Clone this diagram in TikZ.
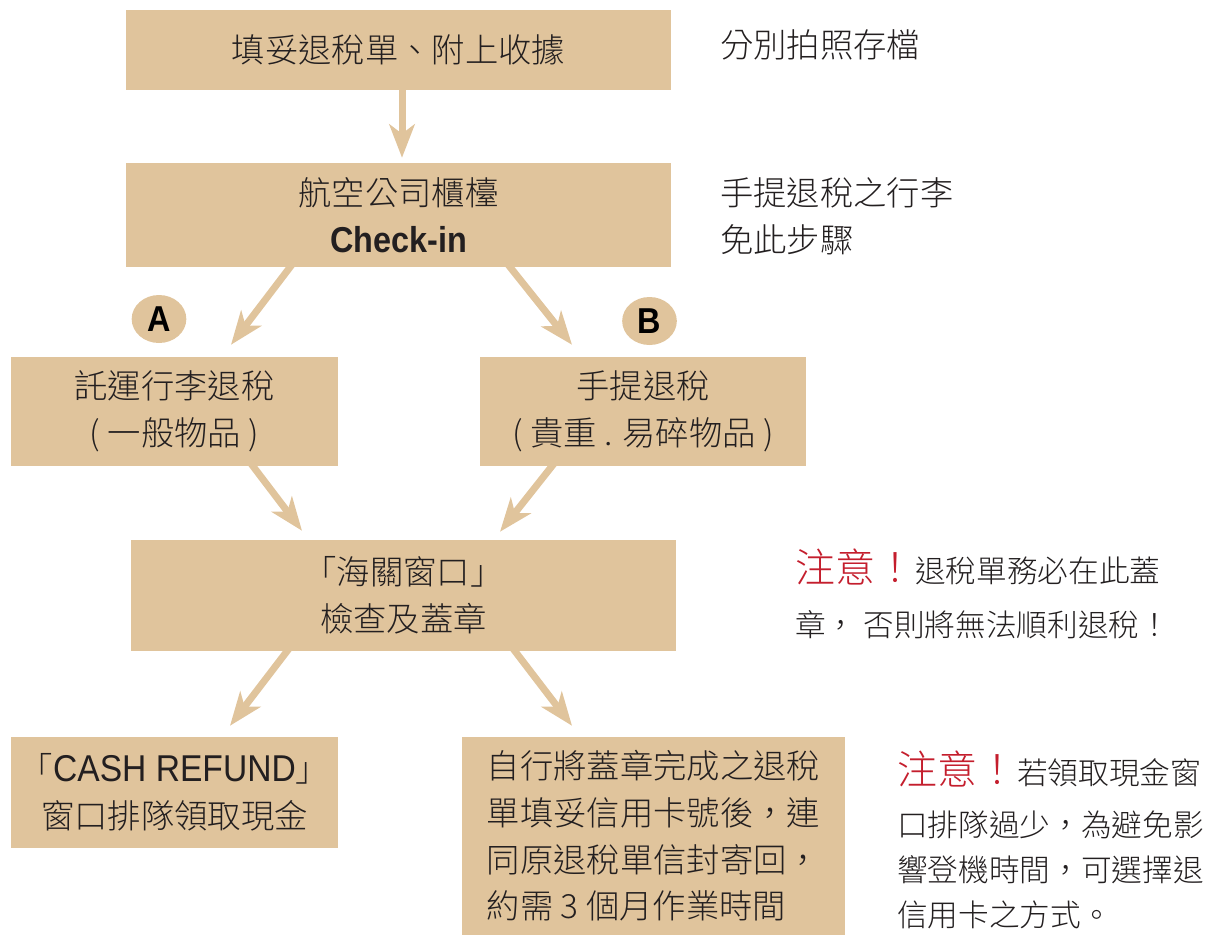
\documentclass[tikz,border=0pt]{standalone}
\usepackage{fontspec}
\setmainfont{Noto Sans CJK TC Light}
\newfontfamily\narrowsans[FakeStretch=0.9]{Liberation Sans}
\usepackage{xcolor}
\usetikzlibrary{arrows.meta,
                calc,
                positioning,
                shapes.geometric}

\definecolor{boxtan}{RGB}{224,196,156}
\definecolor{ink}{RGB}{35,31,32}
\definecolor{warnred}{RGB}{196,30,45}

\tikzset{
  box/.style 2 args={fill=boxtan, text=ink, align=center, inner sep=0pt,
                     minimum width=#1*0.75pt, minimum height=#2*0.75pt,
                     font=\fontsize{25pt}{35pt}\selectfont},
  arr/.style={boxtan, line width=5.25pt,
              -{Stealth[length=25pt,width=19pt,inset=7pt]}},
  tag/.style={ellipse, fill=boxtan, text=black, inner sep=0pt,
              minimum width=41pt, minimum height=36pt,
              font=\narrowsans\bfseries\fontsize{27pt}{27pt}\selectfont},
  note/.style={anchor=west, align=left, inner sep=0pt, text=ink,
               font=\fontsize{25pt}{35pt}\selectfont},
}

\begin{document}
\begin{tikzpicture}[x=0.75pt,y=-0.75pt]
\useasboundingbox (0,0) rectangle (1219,936);

% boxes
\node[box={545}{80}] (form) at (398.5,50) {填妥退稅單、附上收據};
\node[box={545}{104}] (counter) at (398.5,215)
  {航空公司櫃檯\\{\narrowsans\bfseries\fontsize{27pt}{35pt}\selectfont Check-in}};
\node[box={327}{109}] (checked) at (174.5,411.5) {託運行李退稅\\( 一般物品 )};
\node[box={326}{109}] (carry) at (643,411.5) {手提退稅\\( 貴重 . 易碎物品 )};
\node[box={545}{111}] (customs) at (403.5,595.5) {「海關窗口」\\檢查及蓋章};
\node[box={327}{111}] (cash) at (174.5,792.5)
  {「{\narrowsans\fontsize{28pt}{35pt}\selectfont CASH REFUND}」\\窗口排隊領取現金};
\node[box={383}{198}, align=left] (card) at (653.5,836)
  {自行將蓋章完成之退稅\\單填妥信用卡號後，連\\同原退稅單信封寄回，\\約需 3 個月作業時間};

\node[tag] (tagA) at (159,319) {A};
\node[tag] (tagB) at (649.5,321) {B};

% arrows
\foreach \a/\ax/\b/\bx/\by in {form.south/3.5/counter.north/3.5/-5,
                              counter.south/-105.5/checked.north/56.5/-12,
                              counter.south/108.5/carry.north/-71/-12,
                              checked.south/75.5/customs.north/-101.5/-9,
                              carry.south/-88/customs.north/96.5/-8,
                              customs.south/-113.5/cash.north/55.5/-11,
                              customs.south/108.5/card.north/-81.5/-11}
  \draw[arr] ($(\a)+(\ax,-4)$) -- ($(\b)+(\bx,\by)$);

% side notes
\node[note] (photo) at (720,45) {分別拍照存檔};
\node[note] (skip) at (720,216.5) {手提退稅之行李\\免此步驟};
\node[note, font=\fontsize{23pt}{34pt}\selectfont] (warn1) at (795,594)
  {{\color{warnred}\fontsize{30pt}{34pt}\selectfont 注意！}退稅單務必在此蓋\\[6.5pt]章， 否則將無法順利退稅！};
\node[note, font=\fontsize{23pt}{34pt}\selectfont] (warn2) at (897,840)
  {{\color{warnred}\fontsize{30pt}{34pt}\selectfont 注意！}若領取現金窗\\[5pt]口排隊過少，為避免影\\響登機時間，可選擇退\\信用卡之方式。};
\end{tikzpicture}
\end{document}
